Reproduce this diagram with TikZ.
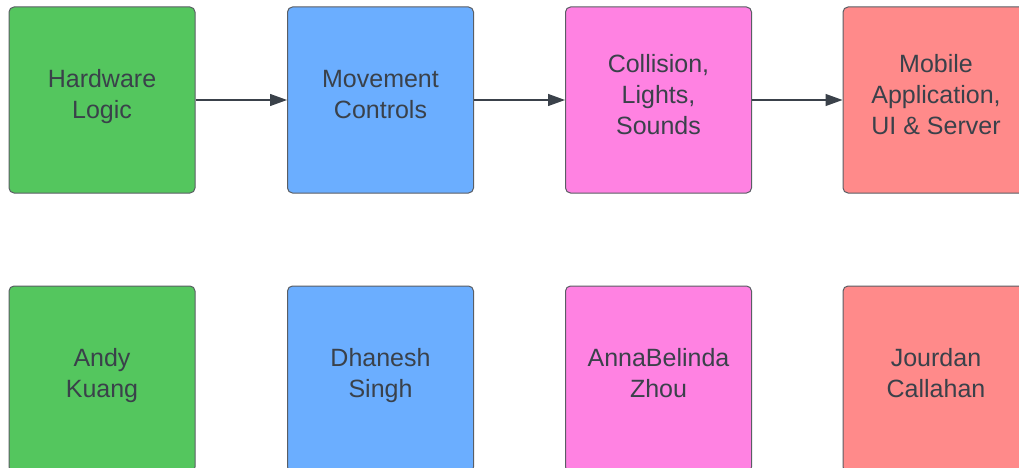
\documentclass[tikz,border=0pt]{standalone}
\usepackage{fontspec}
\setmainfont{Liberation Sans}
\usetikzlibrary{arrows.meta}
\definecolor{cgreen}{RGB}{84,198,94}
\definecolor{cblue}{RGB}{107,174,255}
\definecolor{cpink}{RGB}{255,130,226}
\definecolor{cred}{RGB}{255,138,138}
\definecolor{ctext}{RGB}{58,65,74}
\definecolor{cborder}{RGB}{90,94,100}
\newcommand\cardtop{\rule{0pt}{21.7pt}}
\newcommand\cardbot{\rule[-15.6pt]{0pt}{0pt}}
\begin{document}
\begin{tikzpicture}[x=1pt,y=-1pt,
  card/.style={draw=cborder,line width=1pt,rounded corners=5pt,minimum width=186pt,minimum height=186pt,
    inner sep=0pt,align=center,text=ctext,font=\fontsize{25pt}{31pt}\selectfont},
  link/.style={draw=ctext,line width=1.3pt,-{Triangle[length=17pt,width=12pt]}}]
\useasboundingbox (0,0) rectangle (1019,468);
\begin{scope}
\clip (0,0) rectangle (1019,468);
\node[card,fill=cgreen] (hw) at (102,100) {\cardtop Hardware\\Logic\cardbot};
\node[card,fill=cblue] (mv) at (380.5,100) {\cardtop Movement\\Controls\cardbot};
\node[card,fill=cpink] (cl) at (658.5,100) {\cardtop Collision,\\Lights,\\Sounds\cardbot};
\node[card,fill=cred] (mb) at (936,100) {\cardtop Mobile\\Application,\\UI \& Server\cardbot};
\node[card,fill=cgreen] (ak) at (102,379) {\cardtop Andy\\Kuang\cardbot};
\node[card,fill=cblue] (ds) at (380.5,379) {\cardtop Dhanesh\\Singh\cardbot};
\node[card,fill=cpink] (az) at (658.5,379) {\cardtop AnnaBelinda\\Zhou\cardbot};
\node[card,fill=cred] (jc) at (936,379) {\cardtop Jourdan\\Callahan\cardbot};
\draw[link] (hw) -- (mv);
\draw[link] (mv) -- (cl);
\draw[link] (cl) -- (mb);
\end{scope}
\end{tikzpicture}
\end{document}
